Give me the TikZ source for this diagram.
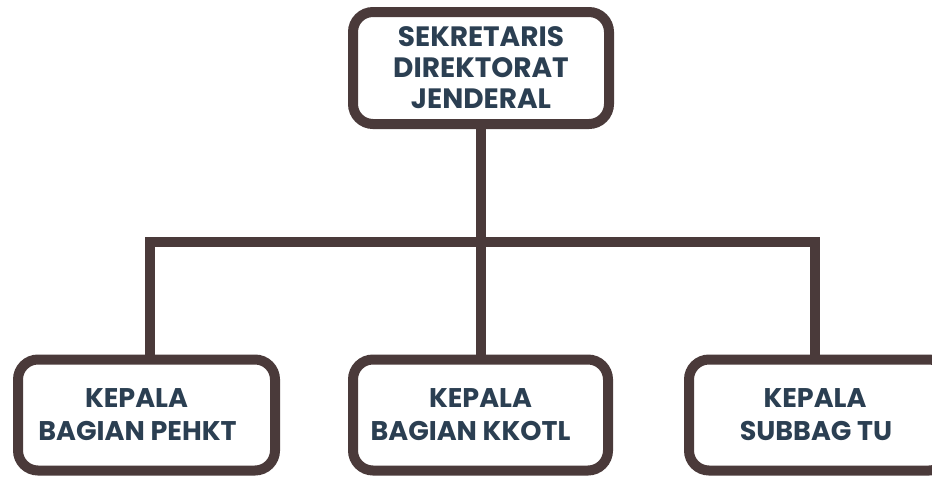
\documentclass[tikz,border=0pt]{standalone}
\usepackage{fontspec}
\setmainfont{Poppins}
\definecolor{linebrown}{HTML}{4A3A3A}
\definecolor{textnavy}{HTML}{2B3F52}
\begin{document}
\begin{tikzpicture}[x=1pt,y=-1pt,
  box/.style={draw=linebrown, line width=10pt, rounded corners=20pt, fill=white,
    align=center, text=textnavy, inner sep=0pt},
  topfont/.style={font=\fontsize{28}{31}\selectfont\bfseries},
  botfont/.style={font=\fontsize{27}{33}\selectfont\bfseries},
  conn/.style={draw=linebrown, line width=10pt, line join=miter}]
\useasboundingbox (0,0) rectangle (932,482);
\clip (0,0) rectangle (932,482);
\coordinate (jL) at (149.5,242);
\coordinate (jM) at (481,242);
\coordinate (jR) at (814.5,242);
\node[box, topfont, minimum width=256pt, minimum height=112pt] (top) at (481,68) {SEKRETARIS\\DIREKTORAT\\JENDERAL};
\node[box, botfont, minimum width=257pt, minimum height=111pt] (b1) at (146.5,415) {KEPALA\hspace*{20pt}\\BAGIAN PEHKT\hspace*{18pt}};
\node[box, botfont, minimum width=255pt, minimum height=111pt] (b2) at (480.5,415) {KEPALA\\BAGIAN KKOTL\hspace*{20pt}};
\node[box, botfont, minimum width=260pt, minimum height=111pt] (b3) at (819,415) {KEPALA\hspace*{8pt}\\SUBBAG TU\hspace*{6pt}};
\draw[conn] (jL |- b1.north) -- (jL) -- (jR) -- (jR |- b3.north);
\draw[conn] (top.south) -- (top.south |- jM);
\draw[conn] (jM) -- (jM |- b2.north);
\end{tikzpicture}
\end{document}
